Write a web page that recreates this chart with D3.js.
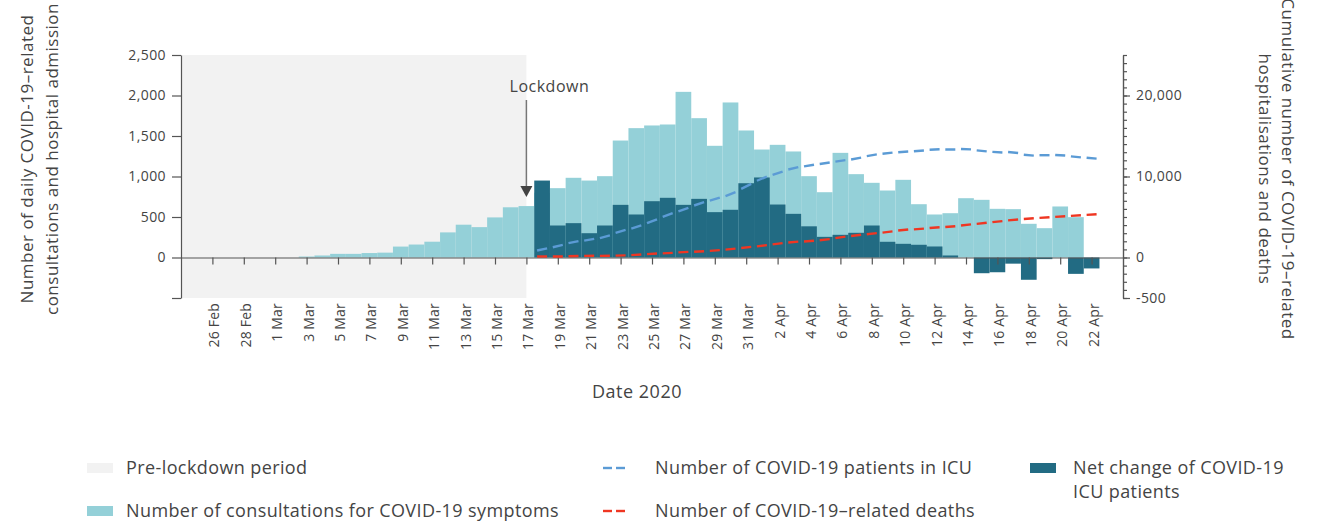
<!DOCTYPE html>
<html>
<head>
<meta charset="utf-8">
<script src="https://cdn.jsdelivr.net/npm/d3@7"></script>
<style>
    body { margin: 0; background: #fff; }
    svg { display: block; font-family: "Open Sans", sans-serif; }
</style>
</head>
<body>
<div id="chart"></div>
<script>

// daily consultations for COVID-19 symptoms, from 3 Mar
const consultStart = "3 Mar";
const consultations = [12, 25, 45, 45, 55, 60, 135, 160, 195, 310, 405, 375, 495, 620, 635,
    800, 856, 984, 950, 1004, 1444, 1597, 1630, 1642, 2045, 1720, 1379, 1914, 1568,
    1333, 1391, 1309, 1004, 806, 1292, 1029, 922, 827, 959, 658, 531, 547, 732, 712,
    601, 597, 416, 362, 630, 498];

// ICU series, from 18 Mar
const icuStart = "18 Mar";
const icuNetChange = [950, 395, 424, 300, 395, 650, 531, 695, 737, 650, 724, 560, 589, 917,
    988, 654, 539, 385, 255, 280, 305, 395, 194, 169, 157, 136, 25, 0, -194, -182,
    -76, -275, -20, 0, -202, -135];
const icuPatients = [994, 1408, 1905, 2194, 2567, 3230, 3768, 4472, 5259, 5921, 6625, 7205, 7826, 8779,
    9731, 10393, 11014, 11345, 11635, 11925, 12215, 12629, 12877, 13043, 13168, 13333,
    13333, 13375, 13168, 13002, 12960, 12629, 12629, 12629, 12422, 12256];
const deaths = [124, 124, 166, 207, 207, 248, 331, 455, 538, 662, 745, 870, 1035, 1242,
    1449, 1698, 1905, 2030, 2194, 2484, 2733, 2940, 3147, 3395, 3520, 3685, 3810,
    4017, 4224, 4431, 4638, 4803, 4928, 5052, 5176, 5300];

const lockdownDay = "17 Mar";
const xTickLabels = ["26 Feb", "28 Feb", "1 Mar", "3 Mar", "5 Mar", "7 Mar", "9 Mar", "11 Mar",
    "13 Mar", "15 Mar", "17 Mar", "19 Mar", "21 Mar", "23 Mar", "25 Mar", "27 Mar", "29 Mar",
    "31 Mar", "2 Apr", "4 Apr", "6 Apr", "8 Apr", "10 Apr", "12 Apr", "14 Apr", "16 Apr",
    "18 Apr", "20 Apr", "22 Apr"];
const leftTicks = [-500, 0, 500, 1000, 1500, 2000, 2500];
const rightTicks = [-5000, 0, 10000, 20000];
const rightTickLabels = ["-500", "0", "10,000", "20,000"];

const parseDay = s => d3.utcParse("%d %b %Y")(s + " 2020");

const width = 1322;
const height = 522;
const margin = { top: 55, left: 181, right: 199, bottom: 224 };

const colors = {
    shade: "#f2f2f2",
    consult: "#94d0d8",
    icuNet: "#226b83",
    icu: "#5b9bd5",
    deaths: "#ef3622",
    axis: "#555",
    text: "#444"
};

const svg = d3.select("#chart")
    .append("svg")
    .attr("width", width)
    .attr("height", height);

const xScale = d3.scaleUtc()
    .domain([parseDay("24 Feb"), parseDay("24 Apr")])
    .range([margin.left, width - margin.right]);
const step = xScale(parseDay("25 Feb")) - xScale(parseDay("24 Feb"));

const yLeft = d3.scaleLinear()
    .domain([-500, 2500])
    .range([height - margin.bottom, margin.top]);
const yRight = d3.scaleLinear()
    .domain([-5000, 25000])
    .range([height - margin.bottom, margin.top]);

function series(start, values) {
    const s = parseDay(start);
    return values.map((v, i) => ({ date: d3.utcDay.offset(s, i), value: v }));
}
const consultData = series(consultStart, consultations);
const netData = series(icuStart, icuNetChange);
const icuData = series(icuStart, icuPatients);
const deathData = series(icuStart, deaths);

// pre-lockdown shading
svg.append("rect")
    .attr("x", margin.left)
    .attr("y", margin.top)
    .attr("width", xScale(parseDay(lockdownDay)) - margin.left)
    .attr("height", height - margin.bottom - margin.top)
    .attr("fill", colors.shade);

// bars
svg.append("g").selectAll("rect")
    .data(consultData)
    .enter()
    .append("rect")
    .attr("x", d => xScale(d.date) - step / 2)
    .attr("y", d => yLeft(d.value))
    .attr("width", step)
    .attr("height", d => yLeft(0) - yLeft(d.value))
    .attr("fill", colors.consult);

svg.append("g").selectAll("rect")
    .data(netData)
    .enter()
    .append("rect")
    .attr("x", d => xScale(d.date) - step / 2)
    .attr("y", d => yLeft(Math.max(0, d.value)))
    .attr("width", step)
    .attr("height", d => Math.abs(yLeft(0) - yLeft(d.value)))
    .attr("fill", colors.icuNet);

// axes
const xAxis = svg.append("g")
    .attr("transform", `translate(0,${yLeft(0)})`)
    .call(d3.axisBottom(xScale)
        .tickValues(xTickLabels.map(parseDay))
        .tickSize(7)
        .tickSizeOuter(0)
        .tickFormat(""));

const yAxisLeft = svg.append("g")
    .attr("transform", `translate(${margin.left},0)`)
    .call(d3.axisLeft(yLeft)
        .tickValues(leftTicks)
        .tickSize(9)
        .tickPadding(6)
        .tickSizeOuter(0)
        .tickFormat(d => d < 0 ? "" : d3.format(",")(d)));

const rightMinor = svg.append("g")
    .attr("transform", `translate(${width - margin.right},0)`)
    .call(d3.axisRight(yRight)
        .tickValues(d3.range(-5000, 25001, 1000))
        .tickSize(4)
        .tickSizeOuter(0)
        .tickFormat(""));

const yAxisRight = svg.append("g")
    .attr("transform", `translate(${width - margin.right},0)`)
    .call(d3.axisRight(yRight)
        .tickValues(rightTicks)
        .tickSize(7)
        .tickPadding(6)
        .tickSizeOuter(0)
        .tickFormat((d, i) => rightTickLabels[i]));

svg.selectAll(".domain, .tick line")
    .attr("stroke", colors.axis)
    .attr("stroke-width", 1.2);
svg.selectAll(".tick text")
    .attr("fill", colors.text)
    .style("font-size", "14px")
    .style("letter-spacing", "0.4px")
    .style("font-family", "Open Sans, sans-serif");

// x tick labels, rotated
svg.append("g").selectAll("text")
    .data(xTickLabels)
    .enter()
    .append("text")
    .attr("transform", d => `translate(${xScale(parseDay(d)) + 2},${height - margin.bottom + 5}) rotate(-90)`)
    .attr("text-anchor", "end")
    .attr("dy", "0.35em")
    .attr("fill", colors.text)
    .style("font-size", "14px")
    .style("letter-spacing", "0.2px")
    .text(d => d);

// dashed lines: one short dash per day, following the local slope
function dashes(data, yScale, color) {
    const pts = data.map(d => [xScale(d.date), yScale(d.value)]);
    const half = 5;
    svg.append("g").selectAll("line")
        .data(pts)
        .enter()
        .append("line")
        .each(function (p, i) {
            const a = pts[Math.max(0, i - 1)], b = pts[Math.min(pts.length - 1, i + 1)];
            const slope = (b[1] - a[1]) / (b[0] - a[0]);
            d3.select(this)
                .attr("x1", p[0] - half).attr("y1", p[1] - slope * half)
                .attr("x2", p[0] + half).attr("y2", p[1] + slope * half);
        })
        .attr("stroke", color)
        .attr("stroke-width", 2.4);
}
dashes(icuData, yRight, colors.icu);
dashes(deathData, yRight, colors.deaths);

// lockdown annotation
const lx = xScale(parseDay(lockdownDay));
svg.append("text")
    .attr("x", lx + 23)
    .attr("y", 92)
    .attr("text-anchor", "middle")
    .attr("fill", colors.text)
    .style("font-size", "16px")
    .style("letter-spacing", "0.5px")
    .text("Lockdown");
svg.append("line")
    .attr("x1", lx).attr("x2", lx)
    .attr("y1", 100).attr("y2", 188)
    .attr("stroke", "#777")
    .attr("stroke-width", 1.5);
svg.append("path")
    .attr("d", `M${lx - 6},186 L${lx + 6},186 L${lx},197 Z`)
    .attr("fill", "#444");

// axis titles
const leftTitle = svg.append("text")
    .attr("transform", "translate(0,159) rotate(-90)")
    .attr("text-anchor", "middle")
    .attr("fill", colors.text)
    .style("font-size", "17px")
    .style("letter-spacing", "0.5px");
leftTitle.append("tspan").attr("x", 0).attr("y", 33).text("Number of daily COVID-19\u2013related");
leftTitle.append("tspan").attr("x", 0).attr("y", 58).text("consultations and hospital admission");

const rightTitle = svg.append("text")
    .attr("transform", "translate(0,169) rotate(90)")
    .attr("text-anchor", "middle")
    .attr("fill", colors.text)
    .style("font-size", "17px")
    .style("letter-spacing", "0.5px");
rightTitle.append("tspan").attr("x", 0).attr("y", -1282).text("Cumulative number of COVID-19\u2013related");
rightTitle.append("tspan").attr("x", 0).attr("y", -1259).text("hospitalisations and deaths");

svg.append("text")
    .attr("x", 637)
    .attr("y", 398)
    .attr("text-anchor", "middle")
    .attr("fill", colors.text)
    .style("font-size", "18px")
    .style("letter-spacing", "0.5px")
    .text("Date 2020");

// legend
const legend = svg.append("g")
    .style("font-size", "18px")
    .style("letter-spacing", "0.4px");
function swatch(x, y, color) {
    legend.append("rect").attr("x", x).attr("y", y - 5).attr("width", 26).attr("height", 10).attr("fill", color);
}
function dashKey(x, y, color) {
    [0, 13].forEach(o => legend.append("line")
        .attr("x1", x + o).attr("x2", x + o + 9).attr("y1", y).attr("y2", y)
        .attr("stroke", color).attr("stroke-width", 2.4));
}
function label(x, y, t) {
    legend.append("text").attr("x", x).attr("y", y).attr("dy", "0.35em").attr("fill", colors.text).text(t);
}
swatch(87, 468, colors.shade);
label(126, 468, "Pre-lockdown period");
swatch(87, 511, colors.consult);
label(126, 511, "Number of consultations for COVID-19 symptoms");
dashKey(603, 468, colors.icu);
label(655, 468, "Number of COVID-19 patients in ICU");
dashKey(603, 511, colors.deaths);
label(655, 511, "Number of COVID-19\u2013related deaths");
swatch(1030, 468, colors.icuNet);
label(1073, 468, "Net change of COVID-19");
label(1073, 492, "ICU patients");

</script>
</body>
</html>
